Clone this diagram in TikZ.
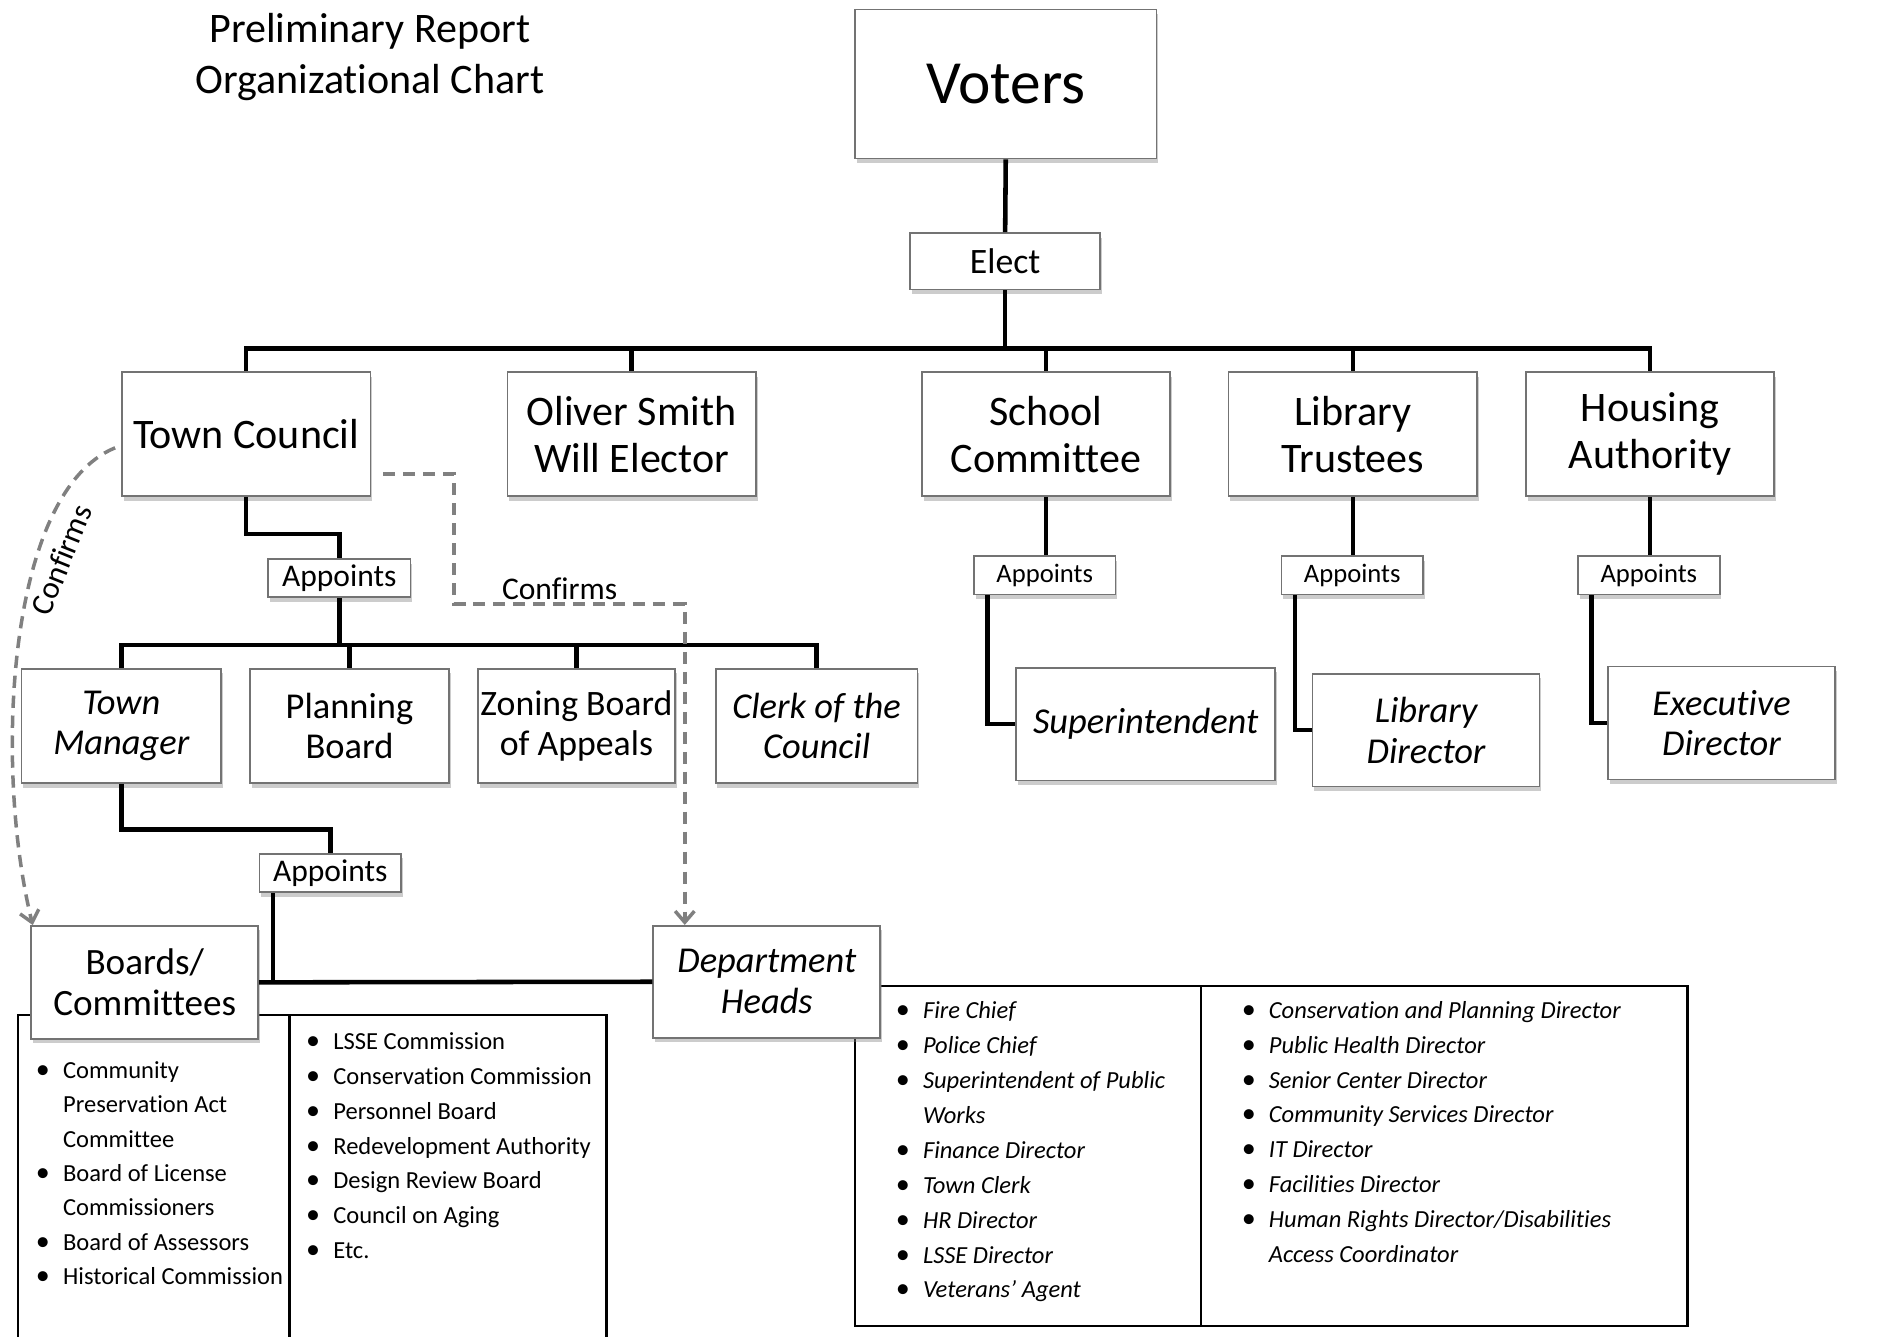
\documentclass[tikz,border=0pt]{standalone}
\usepackage{fontspec}
\setmainfont{Carlito}[Ligatures={TeX,NoCommon}]
\usetikzlibrary{shapes,arrows.meta,positioning,shadows}

\tikzset{
  box/.style={draw=black!55, line width=0.5pt, fill=white, align=center, inner sep=0pt,
    drop shadow={shadow xshift=0.5pt, shadow yshift=-1.3pt, opacity=0.4}},
  topbox/.style={box, minimum width=70.9pt, minimum height=35.3pt, font=\fontsize{12}{13.4}\selectfont},
  midbox/.style={box, minimum width=56.9pt, minimum height=32.6pt, font=\fontsize{10.4}{11.6}\selectfont},
  lowbox/.style={box, minimum width=64.8pt, minimum height=32.2pt, font=\fontsize{10.4}{11.6}\selectfont},
  itfont/.style={font=\fontsize{10.4}{11.6}\selectfont\itshape},
  appbox/.style={box, minimum width=40.6pt, minimum height=10.8pt, font=\fontsize{9}{10}\selectfont},
  smallapp/.style={box, minimum width=40.4pt, minimum height=11pt, font=\fontsize{7.6}{9}\selectfont},
  link/.style={line width=1.3pt},
  table/.style={line width=0.7pt},
  confirm/.style={draw=black!50, line width=1pt, dash pattern=on 3.5pt off 2.2pt,
    -{Straight Barb[length=3.2pt,width=5.5pt]}},
  item/.style={anchor=base west, inner sep=0pt, font=\fontsize{7}{9}\selectfont},
}
\newcommand\bul{\llap{{\fontsize{8}{9}\selectfont\textbullet}\hspace{3.8pt}}}

\begin{document}
\begin{tikzpicture}[x=0.3427pt, y=-0.3427pt]
  \useasboundingbox (0,0) rectangle (1568,1112.5);

  % lists under the two lower boxes
  \draw [table] (15,845) rectangle (505,1125);
  \draw [table] (241,845) -- (241,1125);
  \draw [table] (712,821) rectangle (1405,1104);
  \draw [table] (1000,821) -- (1000,1104);

  \foreach \b/\t [count=\i] in {1/Community, 0/Preservation Act, 0/Committee, 1/Board of License,
      0/Commissioners, 1/Board of Assessors, 1/Historical Commission}
    \node [item] (bl\i) at (52,{869.4+28.6*\i}) {\ifnum\b=1\bul\fi\t};
  \foreach \t [count=\i] in {LSSE Commission, Conservation Commission, Personnel Board,
      Redevelopment Authority, Design Review Board, Council on Aging, Etc.}
    \node [item] (br\i) at (277,{845+29*\i}) {\bul\t};
  \foreach \b/\t [count=\i] in {1/Fire Chief, 1/Police Chief, 1/Superintendent of Public, 0/Works,
      1/Finance Director, 1/Town Clerk, 1/HR Director, 1/LSSE Director, 1/Veterans' Agent}
    \node [item, font=\fontsize{7}{9}\selectfont\itshape] (dl\i) at (768,{818.9+29.1*\i}) {\ifnum\b=1\bul\fi\t};
  \foreach \b/\t [count=\i] in {1/Conservation and Planning Director, 1/Public Health Director,
      1/Senior Center Director, 1/Community Services Director, 1/IT Director, 1/Facilities Director,
      1/{Human Rights Director/Disabilities}, 0/Access Coordinator}
    \node [item, font=\fontsize{7}{9}\selectfont\itshape] (dr\i) at (1056,{819+29*\i}) {\ifnum\b=1\bul\fi\t};

  \node [align=center, font=\fontsize{12}{14.7}\selectfont] (title) at (308,47.5) {Preliminary Report\\Organizational Chart};

  \node [box, minimum width=86pt, minimum height=42.5pt, font=\fontsize{17.5}{20}\selectfont] (voters) at (837.5,70) {Voters};
  \node [box, minimum width=54.1pt, minimum height=16.1pt, font=\fontsize{10.2}{12}\selectfont] (elect) at (837,217.5) {Elect};

  \node [topbox] (council) at (205,361.5) {Town Council};
  \node [topbox] (oliver) at (526,361.5) {Oliver Smith\\Will Elector};
  \node [topbox] (school) at (871,361.5) {School\\Committee};
  \node [topbox] (trustees) at (1126.5,361.5) {Library\\Trustees};
  \node [topbox] (housing) at (1374,361.5) {Housing\\Authority};

  \node [appbox] (tcapp) at (282.5,481.5) {Appoints};
  \node [smallapp] (schapp) at (870,479) {Appoints};
  \node [smallapp] (trapp) at (1126,479) {Appoints};
  \node [smallapp] (hsapp) at (1373,479) {Appoints};

  \node [midbox, itfont] (manager) at (101,604.5) {Town\\Manager};
  \node [midbox] (planning) at (291,604.5) {Planning\\Board};
  \node [midbox, minimum width=56.2pt, font=\fontsize{10.2}{11.6}\selectfont] (zoning) at (480,604.5) {Zoning Board\\of Appeals};
  \node [midbox, itfont, minimum width=57.6pt] (clerk) at (680,604.5) {Clerk of the\\Council};

  \node [lowbox, itfont, minimum width=74pt] (super) at (954,603) {Superintendent};
  \node [lowbox, itfont] (libdir) at (1187.5,608) {Library\\Director};
  \node [lowbox, itfont] (execdir) at (1433.5,602) {Executive\\Director};

  \node [appbox, minimum width=40.4pt, minimum height=11pt] (tmapp) at (275,727) {Appoints};
  \node [lowbox, font=\fontsize{10.6}{11.6}\selectfont] (boards) at (120.5,818) {Boards/\\Committees};
  \node [lowbox, itfont, minimum height=31.9pt] (depts) at (638.5,817.5) {Department\\Heads};

  \coordinate (topbar) at (837,290);
  \coordinate (midbar) at (282.5,537);
  \draw [link] (voters.south) -- (elect.north);
  \draw [link] (elect.south) -- (topbar);
  \foreach \n in {council, oliver, school, trustees, housing}
    \draw [link] (topbar) -| (\n.north);
  \draw [link] (council.south) -- ++(0,31) -| (tcapp.north);
  \draw [link] (tcapp.south) -- (midbar);
  \foreach \n in {manager, planning, zoning, clerk}
    \draw [link] (midbar) -| (\n.north);
  \draw [link] (school.south) -- (school.south |- schapp.north);
  \draw [link] (trustees.south) -- (trustees.south |- trapp.north);
  \draw [link] (housing.south) -- (housing.south |- hsapp.north);
  \draw [link] ([xshift=4.1pt]schapp.south west) |- (super.west);
  \draw [link] ([xshift=4.1pt]trapp.south west) |- (libdir.west);
  \draw [link] ([xshift=4.1pt]hsapp.south west) |- (execdir.west);
  \draw [link] (manager.south) -- ++(0,38) -| (tmapp.north);
  \draw [link] ([xshift=4.1pt]tmapp.south west) -- ([xshift=4.1pt]tmapp.south west |- depts.west);
  \draw [link] (boards.east) -- (depts.west);

  \draw [confirm] ([xshift=-1.7pt, yshift=-3.9pt]council.west) .. controls (5,410) and (-5,640) .. ([xshift=0.7pt]boards.north west);
  \node [rotate=68, font=\fontsize{9}{10}\selectfont] (conf1) at (51,466) {Confirms};
  \draw [confirm] ([shift={(3.4pt,6.5pt)}]council.south east) -- ++(59,0) -- ++(0,108) -| ([xshift=9.25pt]depts.north west);
  \node [font=\fontsize{9}{10}\selectfont] (conf2) at (466,490) {Confirms};
\end{tikzpicture}
\end{document}
